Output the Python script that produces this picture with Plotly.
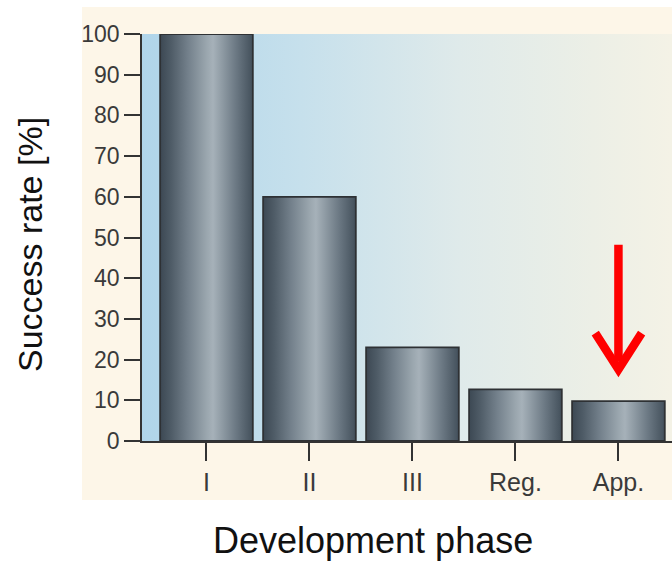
import plotly.graph_objects as go

# ---- data ----
phases = ["I", "II", "III", "Reg.", "App."]
success_rate = [100, 60, 23, 12.7, 9.8]
y_ticks = list(range(0, 101, 10))

# annotation arrow (data coords on the App. column)
arrow_top = 48.2
arrow_vertex = 17.6
arrow_arm_y = 26.5
arrow_arm_dx = 0.225

positions = list(range(len(phases)))
bar_width = 0.9
x_range = [-0.626, 4.52]
y_range = [0, 100]

W, H = 672, 564
ML, MR, MT, MB = 142, 0, 34, 123
pw = W - ML - MR
ph = H - MT - MB

def px_to_paper_x(px):
    return (px - ML) / pw

def px_to_paper_y(py):
    return (H - MB - py) / ph

fig = go.Figure()

# plot-area background gradient (blue -> cream)
fig.add_trace(go.Scatter(
    x=[x_range[0], x_range[1], x_range[1], x_range[0], x_range[0]],
    y=[y_range[0], y_range[0], y_range[1], y_range[1], y_range[0]],
    mode="lines", line=dict(width=0), fill="toself",
    fillgradient=dict(type="horizontal",
                      colorscale=[[0, "#b0d5ea"], [0.3, "#c6e0ec"],
                                  [0.6, "#dfeaea"], [0.85, "#ecefe6"],
                                  [1, "#f4f2e6"]]),
    hoverinfo="skip", showlegend=False))

bar_scale = [[0, "#3c4853"], [0.12, "#4f5c67"], [0.3, "#73808b"],
             [0.5, "#9aa6ae"], [0.57, "#a6b1b9"], [0.66, "#919da6"],
             [0.82, "#6b7883"], [1, "#43505b"]]

for p, v in zip(positions, success_rate):
    x0, x1 = p - bar_width / 2, p + bar_width / 2
    fig.add_trace(go.Scatter(
        x=[x0, x1, x1, x0, x0], y=[0, 0, v, v, 0],
        mode="lines", line=dict(color="#2e3134", width=1.8),
        fill="toself",
        fillgradient=dict(type="horizontal", colorscale=bar_scale),
        hoverinfo="skip", showlegend=False))

# red arrow above App.
ax_pos = positions[phases.index("App.")]
fig.add_trace(go.Scatter(
    x=[ax_pos, ax_pos], y=[arrow_top, arrow_vertex + 2],
    mode="lines", line=dict(color="#ff0000", width=8.5),
    hoverinfo="skip", showlegend=False))
fig.add_trace(go.Scatter(
    x=[ax_pos - arrow_arm_dx, ax_pos, ax_pos + arrow_arm_dx],
    y=[arrow_arm_y, arrow_vertex, arrow_arm_y],
    mode="lines", line=dict(color="#ff0000", width=8.5),
    hoverinfo="skip", showlegend=False))

font_family = "Liberation Sans, Arial, sans-serif"

fig.update_layout(
    width=W, height=H,
    margin=dict(l=ML, r=MR, t=MT, b=MB, pad=0),
    paper_bgcolor="white", plot_bgcolor="rgba(0,0,0,0)",
    showlegend=False,
    font=dict(family=font_family, color="#333333"),
    xaxis=dict(range=x_range, tickmode="array", tickvals=positions,
               ticktext=phases, showgrid=False, zeroline=False,
               showline=True, linecolor="#333333", linewidth=1.5,
               ticks="outside", ticklen=18, tickwidth=1.5,
               tickcolor="#333333",
               tickfont=dict(size=25, color="#3a3a3a")),
    yaxis=dict(range=y_range, tickmode="array", tickvals=y_ticks,
               showgrid=False, zeroline=False,
               showline=True, linecolor="#333333", linewidth=1.5,
               ticks="outside", ticklen=16, tickwidth=1.5,
               tickcolor="#333333",
               tickfont=dict(size=23, color="#3a3a3a")),
    shapes=[dict(type="rect", xref="paper", yref="paper",
                 x0=px_to_paper_x(82), x1=1,
                 y0=px_to_paper_y(500), y1=px_to_paper_y(7),
                 fillcolor="#fdf6e8", line=dict(width=0), layer="below")],
    annotations=[
        dict(text="Success rate [%]", xref="paper", yref="paper",
             x=px_to_paper_x(30), y=px_to_paper_y(245), textangle=-90,
             showarrow=False, xanchor="center", yanchor="middle",
             font=dict(size=34, color="#111111", family=font_family)),
        dict(text="Development phase", xref="paper", yref="paper",
             x=px_to_paper_x(373), y=px_to_paper_y(540),
             showarrow=False, xanchor="center", yanchor="middle",
             font=dict(size=36, color="#111111", family=font_family)),
    ],
)

fig.write_html(
    "out.html",
    config={"displayModeBar": False},
    post_script="document.body.style.margin='0';"
                "document.body.style.overflow='hidden';",
)
